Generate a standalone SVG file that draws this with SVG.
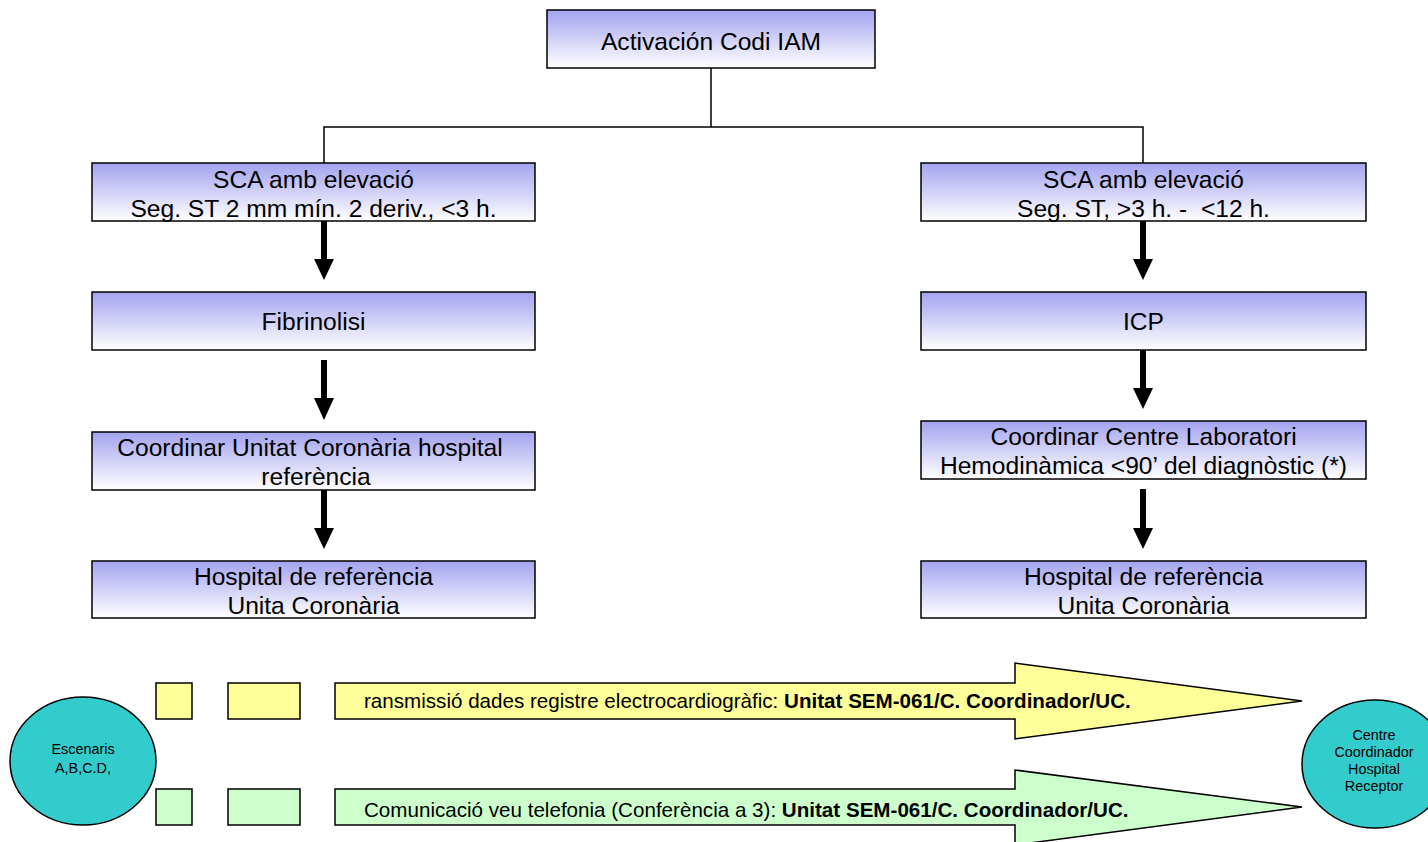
<svg xmlns="http://www.w3.org/2000/svg" width="1428" height="842" viewBox="0 0 1428 842">
<defs>
<linearGradient id="g" x1="0" y1="0" x2="0" y2="1">
<stop offset="0" stop-color="#a3a3f0"/>
<stop offset="1" stop-color="#ffffff"/>
</linearGradient>
</defs>
<style>
.box{fill:url(#g);stroke:#000;stroke-width:1.5}
.t{font-family:"Liberation Sans",Arial,sans-serif;font-size:24.6px;fill:#000;text-anchor:middle}
.s{font-family:"Liberation Sans",Arial,sans-serif;font-size:14.4px;fill:#000;text-anchor:middle}
.m{font-family:"Liberation Sans",Arial,sans-serif;font-size:20.6px;fill:#000}
.ell{fill:#33cccc;stroke:#000;stroke-width:1.5}
.y{fill:#ffff99;stroke:#000;stroke-width:1.5}
.gr{fill:#ccffcc;stroke:#000;stroke-width:1.5}
.ln{fill:none;stroke:#000;stroke-width:1.5}
.sh{stroke:#000;stroke-width:6}
</style>
<g id="connectors">
<path class="ln" d="M711,68 V127 M324,163 V127 H1143 V163"/>
<path class="sh" d="M324,221 V262"/>
<path d="M314,259 L334,259 L324,280 Z"/>
<path class="sh" d="M324,360 V400"/>
<path d="M314,398 L334,398 L324,420 Z"/>
<path class="sh" d="M324,490 V530"/>
<path d="M314,528 L334,528 L324,549 Z"/>
<path class="sh" d="M1143,221 V262"/>
<path d="M1133,259 L1153,259 L1143,280 Z"/>
<path class="sh" d="M1143,350 V390"/>
<path d="M1133,388 L1153,388 L1143,409 Z"/>
<path class="sh" d="M1143,489 V530"/>
<path d="M1133,528 L1153,528 L1143,549 Z"/>
</g>
<g id="n-top"><rect class="box" x="547" y="10" width="328" height="58"/><text class="t" x="711" y="50">Activación Codi IAM</text></g>
<g id="n-l1"><rect class="box" x="92" y="163" width="443" height="58"/><text class="t" x="313.5" y="188">SCA amb elevació</text><text class="t" x="313.5" y="217">Seg. ST 2 mm mín. 2 deriv., &lt;3 h.</text></g>
<g id="n-l2"><rect class="box" x="92" y="292" width="443" height="58"/><text class="t" x="313.5" y="330">Fibrinolisi</text></g>
<g id="n-l3"><rect class="box" x="92" y="432" width="443" height="58"/><text class="t" x="310" y="456">Coordinar Unitat Coronària hospital</text><text class="t" x="316" y="485">referència</text></g>
<g id="n-l4"><rect class="box" x="92" y="561" width="443" height="57"/><text class="t" x="313.5" y="585">Hospital de referència</text><text class="t" x="313.5" y="614">Unita Coronària</text></g>
<g id="n-r1"><rect class="box" x="921" y="163" width="445" height="58"/><text class="t" x="1143.5" y="188">SCA amb elevació</text><text class="t" x="1143.5" y="217" style="white-space:pre">Seg. ST, &gt;3 h. -  &lt;12 h.</text></g>
<g id="n-r2"><rect class="box" x="921" y="292" width="445" height="58"/><text class="t" x="1143.5" y="330">ICP</text></g>
<g id="n-r3"><rect class="box" x="921" y="421" width="445" height="58"/><text class="t" x="1143.5" y="445">Coordinar Centre Laboratori</text><text class="t" x="1143.5" y="474">Hemodinàmica &lt;90’ del diagnòstic (*)</text></g>
<g id="n-r4"><rect class="box" x="921" y="561" width="445" height="57"/><text class="t" x="1143.5" y="585">Hospital de referència</text><text class="t" x="1143.5" y="614">Unita Coronària</text></g>
<g id="n-esc"><ellipse class="ell" cx="83" cy="761" rx="73" ry="64"/><text class="s" x="83" y="754">Escenaris</text><text class="s" x="83" y="773">A,B,C.D,</text></g>
<g id="n-centre"><ellipse class="ell" cx="1375" cy="764" rx="73" ry="64"/><text class="s" x="1374" y="740">Centre</text><text class="s" x="1374" y="757">Coordinador</text><text class="s" x="1374" y="774">Hospital</text><text class="s" x="1374" y="791">Receptor</text></g>
<g id="n-yellow">
<rect class="y" x="156" y="683" width="36" height="36"/>
<rect class="y" x="228" y="683" width="72" height="36"/>
<path class="y" d="M335,683 H1015 V663 L1302,701 L1015,739 V719 H335 Z"/>
<text class="m" x="364" y="708">ransmissió dades registre electrocardiogràfic: <tspan font-weight="bold">Unitat SEM-061/C. Coordinador/UC.</tspan></text>
</g>
<g id="n-green">
<rect class="gr" x="156" y="789" width="36" height="36"/>
<rect class="gr" x="228" y="789" width="72" height="36"/>
<path class="gr" d="M335,789 H1015 V770 L1302,807 L1015,845 V825 H335 Z"/>
<text class="m" x="364" y="817">Comunicació veu telefonia (Conferència a 3)<tspan>: </tspan><tspan font-weight="bold">Unitat SEM-061/C. Coordinador/UC.</tspan></text>
</g>
</svg>
